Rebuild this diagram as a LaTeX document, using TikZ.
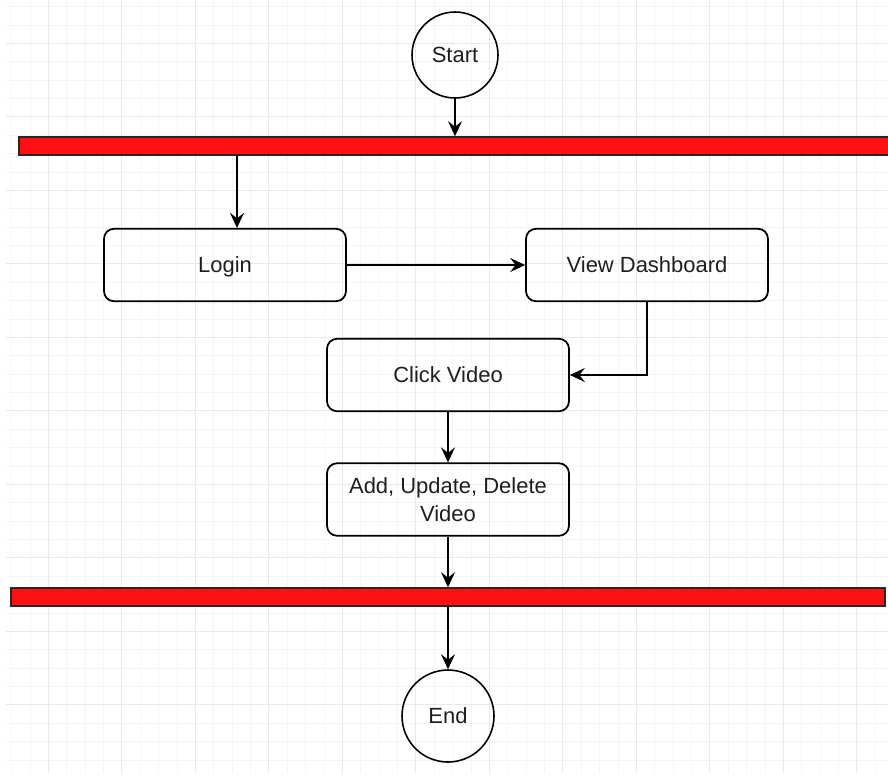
\documentclass[tikz,border=0pt]{standalone}
\usepackage{fontspec}
\setmainfont{Liberation Sans}
\usetikzlibrary{arrows.meta,positioning}

\definecolor{barred}{RGB}{255,17,17}
\definecolor{gridmin}{RGB}{245,245,245}
\definecolor{gridmaj}{RGB}{233,233,233}
\definecolor{txt}{RGB}{30,30,30}

\tikzset{
  flow/.style={-{Stealth[length=3mm,width=2.8mm,inset=1.1mm]},line width=1pt},
  actbox/.style={draw,line width=1pt,rounded corners=0.2cm,minimum width=4.84cm,
    minimum height=1.45cm,align=center,text=txt,text depth=0pt,
    font=\fontsize{12.5}{15.5}\selectfont},
  endpoint/.style={draw,circle,line width=0.9pt,inner sep=0pt,text=txt,
    font=\fontsize{12.5}{15.5}\selectfont},
  forkbar/.style={draw=black!85,fill=barred,line width=0.9pt,minimum height=0.36cm,inner sep=0pt}
}

\begin{document}
\begin{tikzpicture}[x=0.02cm,y=-0.02cm]
   \useasboundingbox (0,0) rectangle (888,775);

   % grid
   \foreach \k in {-2,...,45} {
     \draw[gridmin,line width=0.4pt] ({48.3+18.375*\k},0) -- ({48.3+18.375*\k},773);
   }
   \foreach \k in {-2,...,42} {
     \draw[gridmin,line width=0.4pt] (6,{43.3+18.375*\k}) -- (888,{43.3+18.375*\k});
   }
   \foreach \k in {0,...,11} {
     \draw[gridmaj,line width=0.4pt] ({48.3+73.5*\k},0) -- ({48.3+73.5*\k},773);
   }
   \foreach \k in {0,...,10} {
     \draw[gridmaj,line width=0.4pt] (6,{43.3+73.5*\k}) -- (888,{43.3+73.5*\k});
   }

   \node[endpoint,minimum size=1.72cm] (start) at (455,55) {Start};
   \node[forkbar,minimum width=17.46cm] (fork) at (455.5,146) {};

   \node[actbox] (login) at (225,265) {Login};
   \node[actbox] (dash) at (647,265) {View Dashboard};
   \node[actbox] (click) at (448,375) {Click Video};
   \node[actbox] (crud) at (448,499.5) {Add, Update, Delete\\Video};

   \node[forkbar,minimum width=17.48cm] (join) at (448,597) {};
   \node[endpoint,minimum size=1.84cm] (end) at (448,716) {End};

   \draw[flow] (start) -- (start.south |- fork.north);
   \draw[flow] ([xshift=0.24cm]login.north |- fork.south) -- ([xshift=0.24cm]login.north);
   \draw[flow] (login) -- (dash);
   \draw[flow] (dash.south) |- (click.east);
   \draw[flow] (click) -- (crud);
   \draw[flow] (crud) -- (crud.south |- join.north);
   \draw[flow] (end.north |- join.south) -- (end);

\end{tikzpicture}
\end{document}
